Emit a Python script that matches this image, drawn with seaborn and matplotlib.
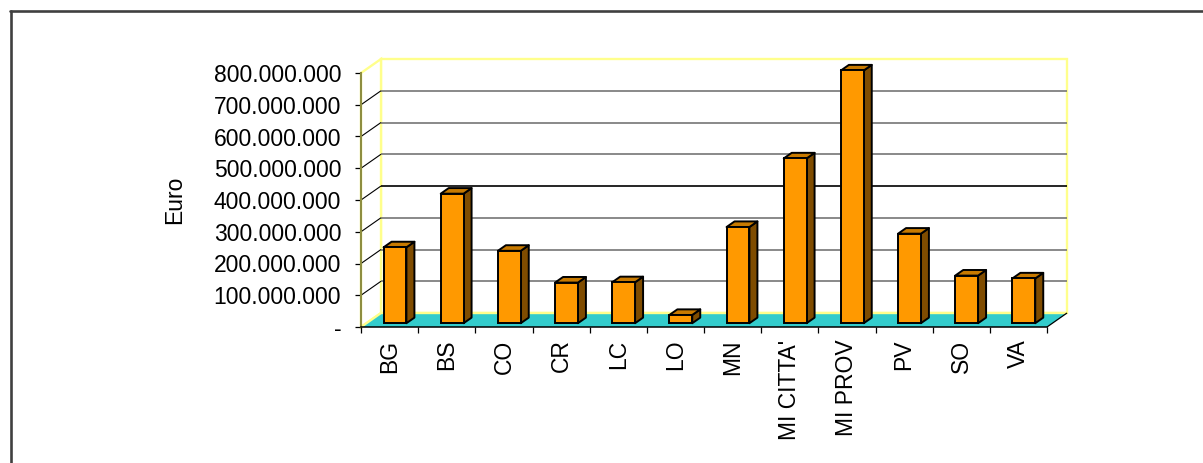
import numpy as np
import pandas as pd
import matplotlib
matplotlib.use("Agg")
import matplotlib.pyplot as plt
import seaborn as sns
from matplotlib.patches import Polygon
from matplotlib.lines import Line2D
from matplotlib.transforms import IdentityTransform, offset_copy

# Data
provinces = ["BG", "BS", "CO", "CR", "LC", "LO", "MN", "MI CITTA'", "MI PROV", "PV", "SO", "VA"]
euro = [239e6, 408e6, 228e6, 128e6, 129e6, 26e6, 303e6, 519e6, 796e6, 282e6, 150e6, 141e6]
y_ticks = [0, 100e6, 200e6, 300e6, 400e6, 500e6, 600e6, 700e6, 800e6]
y_labels = ["-", "100.000.000", "200.000.000", "300.000.000", "400.000.000",
            "500.000.000", "600.000.000", "700.000.000", "800.000.000"]

sns.set_theme(style="white")
plt.rcParams["font.family"] = ["Liberation Sans", "DejaVu Sans"]

W, H = 1203, 463
fig = plt.figure(figsize=(W / 100, H / 100), dpi=100)
fig.patch.set_facecolor("white")

# front plane of the 3-D box
ax = fig.add_axes([361 / W, 1 - 327 / H, 686 / W, 254 / H])
ax.set_facecolor("none")

df = pd.DataFrame({"Provincia": provinces, "Euro": euro})
sns.barplot(data=df, x="Provincia", y="Euro", width=0.4, color="#FF9900",
            saturation=1, edgecolor="black", linewidth=1.4, ax=ax, zorder=5)

n = len(provinces)
x_lo, x_hi = -0.5, n - 0.5
y_top = y_ticks[-1]
ax.set_xlim(x_lo, x_hi)
ax.set_ylim(0, y_top)

# depth of the box (pixels) and depth slot occupied by the columns
DX, DY = 20.0, 14.0
F_DEPTH, B_DEPTH = 0.27, 0.67
YELLOW = "#FFFF8C"
IDT = IdentityTransform()


def disp(x, y, d):
    px, py = ax.transData.transform((x, y))
    return (px + d * DX, py + d * DY)


def poly(pts, **kw):
    p = Polygon(pts, closed=True, transform=IDT, clip_on=False, **kw)
    ax.add_patch(p)
    return p


def seg(p0, p1, **kw):
    ln = Line2D([p0[0], p1[0]], [p0[1], p1[1]], transform=IDT, clip_on=False,
                solid_capstyle="butt", **kw)
    ax.add_line(ln)
    return ln


# back wall
poly([disp(x_lo, 0, 1), disp(x_hi, 0, 1), disp(x_hi, y_top, 1), disp(x_lo, y_top, 1)],
     facecolor="white", edgecolor=YELLOW, linewidth=1.7, zorder=0.2)
# left side wall
poly([disp(x_lo, 0, 0), disp(x_lo, 0, 1), disp(x_lo, y_top, 1), disp(x_lo, y_top, 0)],
     facecolor="white", edgecolor=YELLOW, linewidth=1.7, zorder=0.3)

# gridlines on the back wall and the side wall
for v in y_ticks[1:-1]:
    seg(disp(x_lo, v, 1), disp(x_hi, v, 1),
        color="black" if v == 400e6 else "#767676", linewidth=1.2, zorder=0.6)
    seg(disp(x_lo, v, 0), disp(x_lo, v, 1), color="black", linewidth=0.8, zorder=0.6)

# floor
poly([disp(x_lo, 0, 0), disp(x_hi, 0, 0), disp(x_hi, 0, 1), disp(x_lo, 0, 1)],
     facecolor="#33CCCC", edgecolor="none", zorder=1)
seg(disp(x_lo, 0, 1), disp(x_hi, 0, 1), color=YELLOW, linewidth=1.7, zorder=1.1)
seg(disp(x_lo, 0, 0), disp(x_lo, 0, 1), color=YELLOW, linewidth=1.7, zorder=1.1)
seg(disp(x_hi, 0, 0), disp(x_hi, 0, 1), color="black", linewidth=0.9, zorder=1.1)

# columns: shift the seaborn front faces into the depth slot, add side and top faces
front_tr = offset_copy(ax.transData, fig=fig, x=F_DEPTH * DX, y=F_DEPTH * DY, units="dots")
for bar in list(ax.patches):
    if not hasattr(bar, "get_width") or bar.get_zorder() != 5:
        continue
    bar.set_transform(front_tr)
    bar.set_clip_on(False)
    x0 = bar.get_x()
    x1 = x0 + bar.get_width()
    h = bar.get_height()
    poly([disp(x1, 0, F_DEPTH), disp(x1, 0, B_DEPTH), disp(x1, h, B_DEPTH), disp(x1, h, F_DEPTH)],
         facecolor="#7F4C00", edgecolor="black", linewidth=1.4, joinstyle="round", zorder=4)
    poly([disp(x0, h, F_DEPTH), disp(x1, h, F_DEPTH), disp(x1, h, B_DEPTH), disp(x0, h, B_DEPTH)],
         facecolor="#C87A00", edgecolor="black", linewidth=1.4, joinstyle="round", zorder=4)

# axes and ticks
for s in ("top", "right"):
    ax.spines[s].set_visible(False)
ax.spines["left"].set_color("#8E8E40")
ax.spines["left"].set_linewidth(1.5)
ax.spines["left"].set_zorder(6)
ax.spines["bottom"].set_color("black")
ax.spines["bottom"].set_linewidth(1.1)
ax.spines["bottom"].set_zorder(6)

ax.set_yticks(y_ticks)
ax.set_yticklabels(y_labels)
ax.set_xticks(range(n))
ax.set_xticklabels(provinces, rotation=90)
ax.set_xticks(np.arange(n + 1) - 0.5, minor=True)
ax.tick_params(axis="y", which="major", left=True, direction="out", length=4.3,
               width=0.9, color="black", pad=10, labelsize=16.5, labelcolor="black")
ax.tick_params(axis="x", which="major", bottom=True, length=0, pad=9,
               labelsize=16.5, labelcolor="black")
ax.tick_params(axis="x", which="minor", bottom=True, direction="out", length=4.3,
               width=0.9, color="black")
ax.set_xlabel("")
ax.set_ylabel("")
ax.grid(False)

fig.text(175 / W, 1 - 200 / H, "Euro", rotation=90, ha="center", va="center",
         fontsize=16.5, color="black")

# chart-area border (top and left edges)
fig.add_artist(Line2D([10, W], [H - 10.5, H - 10.5], transform=IDT, color="#404040", linewidth=1.9))
fig.add_artist(Line2D([10.5, 10.5], [0, H - 10.5], transform=IDT, color="#404040", linewidth=1.9))

fig.savefig("out.png", dpi=100)
